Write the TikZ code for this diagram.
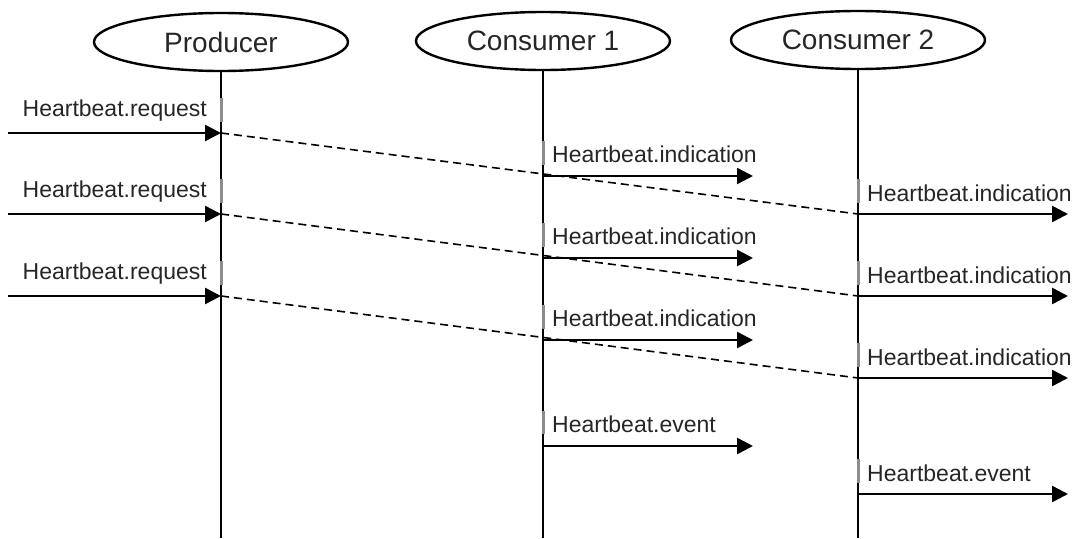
\documentclass[tikz,border=0pt]{standalone}
\usepackage{fontspec}
\setmainfont{Liberation Sans}
\usetikzlibrary{shapes.geometric,arrows.meta}
\begin{document}
\begin{tikzpicture}[x=1pt,y=-1pt,
  actor/.style={ellipse,draw,line width=2.4pt,minimum width=254pt,minimum height=58pt,
    inner sep=0pt,font=\fontsize{28}{32}\selectfont,text=black!85},
  lifeline/.style={line width=2.5pt},
  msg/.style={line width=2.5pt,-{Triangle[length=16pt,width=16pt]}},
  relay/.style={line width=1.6pt,dash pattern=on 8pt off 5pt},
  lbl/.style={font=\fontsize{23}{27}\selectfont,inner sep=0pt,text=black!85},
  tick/.style={fill=black!45,draw=none}
]
\useasboundingbox (0,0) rectangle (1081,538);

% participants
\node[actor] (prod) at (221,42) {Producer};
\node[actor] (con1) at (543,41) {Consumer 1};
\node[actor] (con2) at (858,40) {Consumer 2};

% lifelines
\coordinate (prodEnd) at (221,538);
\coordinate (con1End) at (543,538);
\coordinate (con2End) at (858,538);
\draw[lifeline] (prod.south) -- (prodEnd);
\draw[lifeline] (con1.south) -- (con1End);
\draw[lifeline] (con2.south) -- (con2End);

% three heartbeat rounds
\foreach \i/\ya/\yb/\yc in {1/133/176/214, 2/214/258/296, 3/296/340/378}{
  % request entering the producer
  \coordinate (rqS\i) at (8,\ya);
  \coordinate (rqE\i) at (221,\ya);
  \fill[tick] (219.5,\ya-35) rectangle (222.5,\ya-11);
  \draw[msg] (rqS\i) -- (rqE\i);
  \node[lbl,anchor=base east] (rqL\i) at (207,\ya-17) {Heartbeat.request};
  % indication at consumer 1
  \coordinate (iaS\i) at (543,\yb);
  \coordinate (iaE\i) at (753,\yb);
  \fill[tick] (541.5,\yb-35) rectangle (544.5,\yb-11);
  \draw[msg] (iaS\i) -- (iaE\i);
  \node[lbl,anchor=base west] (iaL\i) at (552,\yb-14) {Heartbeat.indication};
  % indication at consumer 2
  \coordinate (ibS\i) at (858,\yc);
  \coordinate (ibE\i) at (1068,\yc);
  \fill[tick] (856.5,\yc-35) rectangle (859.5,\yc-11);
  \draw[msg] (ibS\i) -- (ibE\i);
  \node[lbl,anchor=base west] (ibL\i) at (867,\yc-13) {Heartbeat.indication};
  % producer to consumer 2
  \draw[relay] (rqE\i) -- (ibS\i);
}

% events
\coordinate (evaS) at (543,446);
\coordinate (evaE) at (753,446);
\fill[tick] (541.5,411) rectangle (544.5,434);
\draw[msg] (evaS) -- (evaE);
\node[lbl,anchor=base west] (evaL) at (552,432) {Heartbeat.event};

\coordinate (evbS) at (858,494);
\coordinate (evbE) at (1068,494);
\fill[tick] (856.5,459) rectangle (859.5,483);
\draw[msg] (evbS) -- (evbE);
\node[lbl,anchor=base west] (evbL) at (867,481) {Heartbeat.event};
\end{tikzpicture}
\end{document}
